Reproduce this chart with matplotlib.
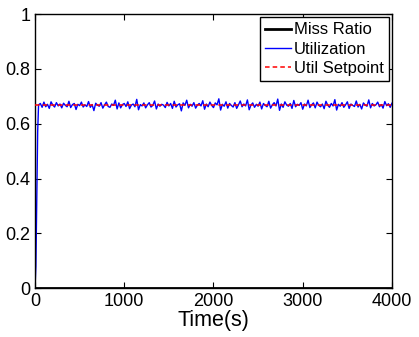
import numpy as np
import matplotlib
matplotlib.use("Agg")
import matplotlib.pyplot as plt

plt.rcParams['font.family'] = ['Liberation Sans', 'DejaVu Sans']

# time axis in seconds: finer steps during start-up, then every 20 s
time_s = np.concatenate([[0, 10, 20, 30], np.arange(40, 4001, 20)])

# utilization
utilization = [
    0.000, 0.080, 0.320, 0.570,
    0.669, 0.674, 0.660, 0.679, 0.662, 0.671, 0.656, 0.680, 0.668, 0.661,
    0.677, 0.665, 0.672, 0.658, 0.675, 0.667, 0.662, 0.682, 0.659, 0.670,
    0.674, 0.652, 0.671, 0.666, 0.679, 0.661, 0.669, 0.663, 0.681, 0.660,
    0.670, 0.648, 0.675, 0.668, 0.664, 0.677, 0.657, 0.669, 0.679, 0.663,
    0.660, 0.672, 0.667, 0.686, 0.654, 0.676, 0.658, 0.670, 0.674, 0.663,
    0.680, 0.655, 0.668, 0.672, 0.662, 0.689, 0.651, 0.670, 0.665, 0.676,
    0.658, 0.669, 0.677, 0.661, 0.667, 0.683, 0.654, 0.672, 0.664, 0.671,
    0.668, 0.659, 0.678, 0.665, 0.674, 0.656, 0.682, 0.661, 0.669, 0.673,
    0.647, 0.676, 0.667, 0.686, 0.658, 0.671, 0.664, 0.677, 0.657, 0.668,
    0.674, 0.665, 0.684, 0.653, 0.672, 0.662, 0.679, 0.667, 0.659, 0.676,
    0.669, 0.691, 0.650, 0.671, 0.664, 0.680, 0.657, 0.674, 0.667, 0.661,
    0.677, 0.656, 0.669, 0.683, 0.662, 0.672, 0.665, 0.687, 0.651, 0.668,
    0.676, 0.660, 0.671, 0.664, 0.679, 0.654, 0.674, 0.667, 0.662, 0.682,
    0.657, 0.669, 0.677, 0.665, 0.690, 0.649, 0.672, 0.660, 0.680, 0.668,
    0.664, 0.674, 0.656, 0.685, 0.662, 0.671, 0.667, 0.677, 0.653, 0.672,
    0.665, 0.686, 0.659, 0.669, 0.676, 0.658, 0.679, 0.667, 0.662, 0.672,
    0.655, 0.682, 0.668, 0.660, 0.674, 0.665, 0.688, 0.650, 0.671, 0.664,
    0.677, 0.660, 0.669, 0.680, 0.656, 0.672, 0.667, 0.663, 0.683, 0.661,
    0.671, 0.654, 0.676, 0.668, 0.664, 0.687, 0.658, 0.674, 0.665, 0.669,
    0.679, 0.662, 0.670, 0.657, 0.681, 0.666, 0.673, 0.660, 0.675,
]
miss_ratio = [0.0] * len(time_s)
util_setpoint = [0.667] * len(time_s)

fig = plt.figure(figsize=(4.19, 3.37), dpi=100)
ax = fig.add_axes([0.0835, 0.145, 0.852, 0.813])

ax.plot(time_s, miss_ratio, color='black', lw=2, label='Miss Ratio', zorder=3)
ax.plot(time_s, utilization, color='blue', lw=1.0, label='Utilization', zorder=2)
ax.plot(time_s, util_setpoint, color='red', lw=1.1, ls='--', dashes=(3, 2),
        label='Util Setpoint', zorder=4)

ax.set_xlim(0, 4000)
ax.set_ylim(0, 1)
ax.set_xticks([0, 1000, 2000, 3000, 4000])
ax.set_yticks([0, 0.2, 0.4, 0.6, 0.8, 1])
ax.set_yticklabels(['0', '0.2', '0.4', '0.6', '0.8', '1'])
ax.tick_params(direction='in', top=True, right=True, labelsize=13, length=4)
ax.tick_params(axis='x', pad=3.5)
ax.tick_params(axis='y', pad=3.5)
ax.set_xlabel('Time(s)', fontsize=15.5, labelpad=0)
for s in ax.spines.values():
    s.set_linewidth(1)

leg = ax.legend(loc='upper right', fontsize=12, fancybox=False, edgecolor='black',
                framealpha=1, borderpad=0.3, labelspacing=0.25, handlelength=1.6,
                handletextpad=0.15, borderaxespad=0.2)
leg.get_frame().set_linewidth(1)

fig.savefig('out.png', dpi=100)
